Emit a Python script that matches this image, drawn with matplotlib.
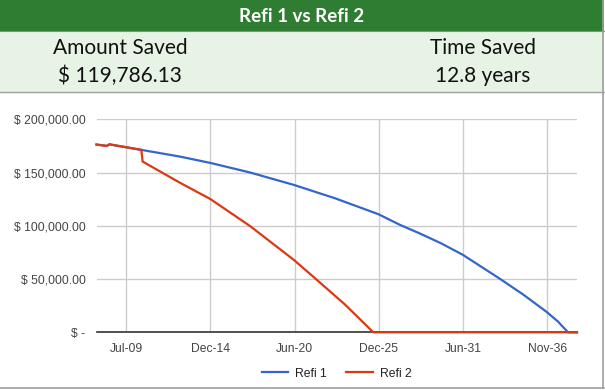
import matplotlib
matplotlib.use("Agg")
import matplotlib.pyplot as plt
import matplotlib.dates as mdates
from matplotlib.patches import Rectangle
from matplotlib.ticker import FuncFormatter
import pandas as pd

# values
fechas1 = ["2007-08-01", "2008-04-01", "2008-06-01", "2010-07-01", "2013-01-01",
           "2015-01-01", "2017-08-01", "2020-06-01", "2023-02-01", "2025-12-01",
           "2027-05-01", "2028-08-01", "2030-01-01", "2031-06-01", "2033-11-01",
           "2035-05-01", "2036-11-01", "2037-08-01", "2038-04-01", "2038-11-01"]
refi1 = [176300, 175000, 176500, 171300, 165000,
         159000, 150000, 138400, 125900, 110900,
         100800, 93000, 83500, 72700, 50100,
         35500, 19400, 10300, 0, 0]

fechas2 = ["2007-08-01", "2008-04-01", "2008-06-01", "2010-07-01", "2010-08-01",
           "2013-01-01", "2015-01-01", "2017-08-01", "2020-06-01", "2021-12-01",
           "2023-10-01", "2025-08-01", "2038-11-01"]
refi2 = [176300, 175000, 176500, 171300, 160300,
         140500, 125000, 99600, 68000, 49200,
         26000, 0, 0]

ticksX = ["2009-07-06", "2014-12-27", "2020-06-18", "2025-12-09", "2031-06-01", "2036-11-22"]
ticksY = [0, 50000, 100000, 150000, 200000]

titulo = "Refi 1 vs Refi 2"
economia = "$ 119,786.13"
tempo = "12.8 years"

W, H = 605, 390
fig = plt.figure(figsize=(W / 100, H / 100), dpi=100)
fig.patch.set_facecolor("white")

def caixa(x, y, w, h, cor):
    fig.patches.append(Rectangle((x / W, 1 - (y + h) / H), w / W, h / H,
                                 transform=fig.transFigure, facecolor=cor,
                                 edgecolor="none", zorder=0))

def linha(xs, ys, cor, lw):
    fig.add_artist(plt.Line2D([v / W for v in xs], [1 - v / H for v in ys],
                              color=cor, lw=lw, transform=fig.transFigure))

caixa(0, 0, 604, 31, "#2e7d32")
caixa(0, 31, 604, 61, "#e7f3e4")
linha([0, 604], [92, 92], "#9e9e9e", 1)
linha([0, 604], [31, 31], "#8a8a8a", 0.8)
linha([0, 604], [388, 388], "#9e9e9e", 1.2)
linha([603, 603], [388, 0], "#9e9e9e", 1.2)

fonte = ["Lato", "DejaVu Sans"]
fig.text(302 / W, 1 - 16 / H, titulo, color="white", fontsize=13.5, fontweight="bold",
         family=fonte, ha="center", va="center")
fig.text(120 / W, 1 - 48 / H, "Amount Saved", fontsize=15, family=fonte, ha="center", va="center", color="#111111")
fig.text(120 / W, 1 - 76 / H, economia, fontsize=15, family=fonte, ha="center", va="center", color="#111111")
fig.text(483 / W, 1 - 48 / H, "Time Saved", fontsize=15, family=fonte, ha="center", va="center", color="#111111")
fig.text(483 / W, 1 - 76 / H, tempo, fontsize=15, family=fonte, ha="center", va="center", color="#111111")

x1 = pd.to_datetime(fechas1)
x2 = pd.to_datetime(fechas2)

ax = fig.add_axes([96.5 / W, 1 - 332.3 / H, (577 - 96.5) / W, (332.3 - 119.3) / H])
ax.plot(x1, refi1, color="#3366cc", lw=1.6, label="Refi 1", zorder=3, clip_on=False)
ax.plot(x2, refi2, color="#dc3912", lw=1.6, label="Refi 2", zorder=4, clip_on=False)

ax.set_xlim(x1[0], x1[-1])
ax.set_ylim(0, 200000)
ax.set_xticks(pd.to_datetime(ticksX))
ax.xaxis.set_major_formatter(mdates.DateFormatter("%b-%y"))
ax.set_yticks(ticksY)

def dinheiro(v, pos):
    if v == 0:
        return "$ -"
    return "$ {:,.2f}".format(v)

ax.yaxis.set_major_formatter(FuncFormatter(dinheiro))
ax.grid(True, color="#cccccc", lw=1)
ax.set_axisbelow(True)
for lado in ["top", "right", "left"]:
    ax.spines[lado].set_visible(False)
ax.spines["bottom"].set_color("#333333")
ax.spines["bottom"].set_linewidth(1.2)
ax.spines["bottom"].set_zorder(2)
ax.tick_params(length=0, labelsize=8.7, labelcolor="#444444", pad=8)
for t in ax.get_xticklabels() + ax.get_yticklabels():
    t.set_family(["Liberation Sans", "DejaVu Sans"])

leg = ax.legend(loc="upper center", bbox_to_anchor=(0.5, -0.115), ncol=2, frameon=False,
                prop={"family": "Liberation Sans", "size": 8.7}, handlelength=2.2,
                columnspacing=1.6, handletextpad=0.6)
for t in leg.get_texts():
    t.set_color("#222222")

fig.savefig("out.png", dpi=100)
